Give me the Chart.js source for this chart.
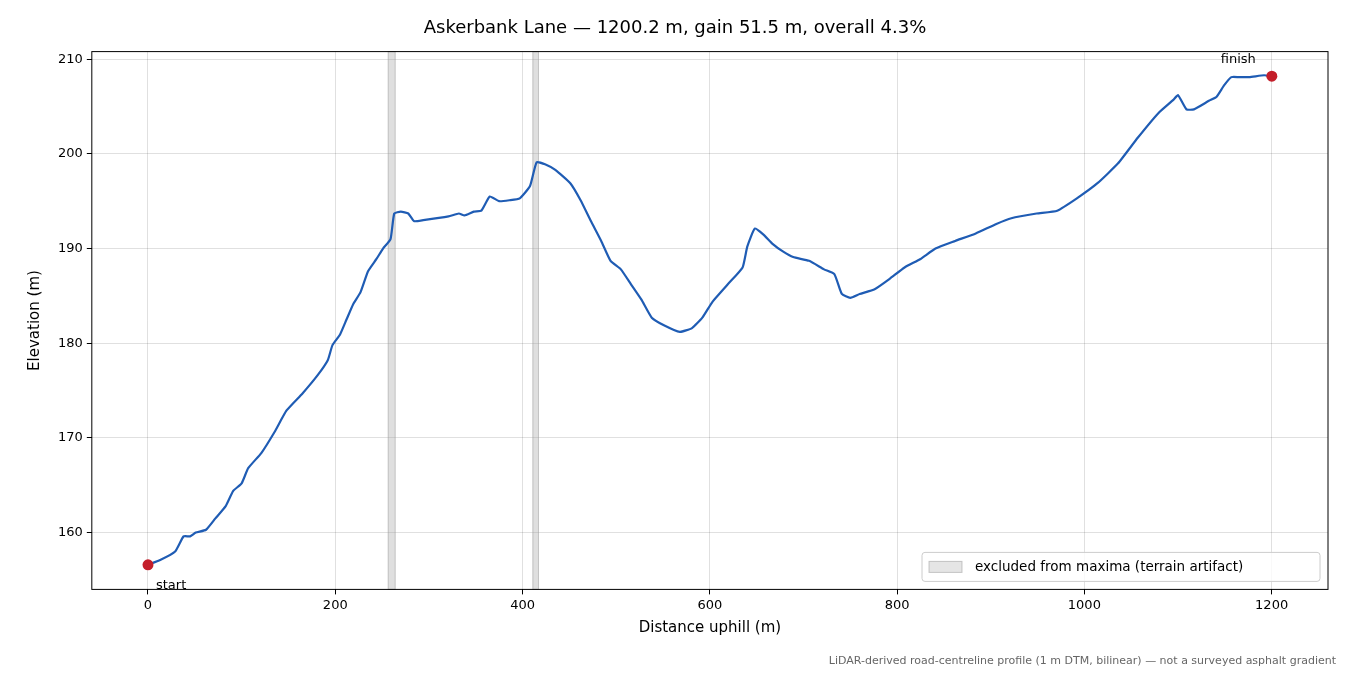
<!DOCTYPE html>
<html><head><meta charset="utf-8">
<script src="https://cdn.jsdelivr.net/npm/chart.js@4/dist/chart.umd.min.js"></script>
<style>html,body{margin:0;padding:0;background:#fff}#w{width:1350px;height:675px;position:relative}</style>
</head><body><div id="w"><canvas id="c" width="1350" height="675"></canvas></div>
<script>
const distance=[0,13,29,38,45,51,62,72,83,91,100,107,121,135,148,165,181,192,197,205,212,219,227,235,244,251,259,263,270,278,284,294,321,332,338,348,356,365,375,386,397,408,415,424,435,451,462,473,484,494,505,516,527,538,551,568,581,592,603,619,635,640,648,657,667,678,689,706,722,733,741,750,760,776,792,808,825,841,862,884,906,922,949,971,992,1014,1036,1057,1079,1095,1100,1109,1117,1133,1141,1149,1157,1165,1176,1192,1200.2];
const elevation=[156.6,157.1,158,159.6,159.6,160,160.3,161.5,162.8,164.4,165.2,166.8,168.4,170.6,172.9,174.7,176.6,178.2,179.8,180.9,182.5,184.1,185.4,187.6,188.9,190,191,193.7,193.9,193.7,192.9,193,193.4,193.7,193.5,193.9,194,195.5,195,195.1,195.3,196.6,199.1,198.9,198.3,196.9,195.1,192.9,190.8,188.7,187.8,186.2,184.6,182.7,181.9,181.2,181.6,182.7,184.4,186.2,188,190.2,192.1,191.5,190.5,189.7,189.1,188.7,187.8,187.3,185.2,184.8,185.2,185.7,186.8,188,188.9,190,190.8,191.6,192.6,193.2,193.7,194,195.3,196.9,199,201.7,204.3,205.7,206.2,204.7,204.7,205.6,206,207.2,208.1,208.1,208.1,208.3,208.2];
const bandStart=[256.5,411];
const bandEnd=[264,417];
const endLabels=["start","finish"];
const xTicks=[0,200,400,600,800,1000,1200];
const yTicks=[160,170,180,190,200,210];
const pts=distance.map((d,i)=>({x:d,y:elevation[i]}));
const ends=[pts[0],pts[pts.length-1]];
const F="DejaVu Sans";
const extras={id:'extras',
 beforeDatasetsDraw(ch){const {ctx,scales:{x,y},chartArea:a}=ch;ctx.save();
  for(let i=0;i<bandStart.length;i++){const x0=x.getPixelForValue(bandStart[i]),x1=x.getPixelForValue(bandEnd[i]);
   ctx.fillStyle='rgba(150,150,150,0.3)';ctx.fillRect(x0,a.top,x1-x0,a.bottom-a.top);
   ctx.strokeStyle='rgba(150,150,150,0.5)';ctx.lineWidth=1;ctx.strokeRect(x0,a.top,x1-x0,a.bottom-a.top);}
  ctx.restore();},
 afterDraw(ch){const {ctx,scales:{x,y},chartArea:a}=ch;ctx.save();
  ctx.strokeStyle='#000';ctx.lineWidth=1;ctx.strokeRect(a.left,a.top,a.right-a.left,a.bottom-a.top);
  ctx.font='13px '+F;ctx.fillStyle='#000';ctx.textBaseline='alphabetic';
  ctx.textAlign='left';ctx.fillText(endLabels[0],x.getPixelForValue(ends[0].x)+8,y.getPixelForValue(ends[0].y)+24);
  ctx.textAlign='right';ctx.fillText(endLabels[1],x.getPixelForValue(ends[1].x)-16,y.getPixelForValue(ends[1].y)-13);
  const lw=398,lh=29,lx=a.right-8-lw,ly=a.bottom-8-lh;
  ctx.fillStyle='rgba(255,255,255,0.8)';ctx.strokeStyle='#ccc';ctx.beginPath();ctx.roundRect(lx,ly,lw,lh,3);ctx.fill();ctx.stroke();
  ctx.fillStyle='rgba(150,150,150,0.25)';ctx.strokeStyle='rgba(150,150,150,0.5)';ctx.fillRect(lx+7,ly+9,33,11);ctx.strokeRect(lx+7,ly+9,33,11);
  ctx.fillStyle='#000';ctx.textAlign='left';ctx.textBaseline='middle';ctx.font='13.5px '+F;
  ctx.fillText('excluded from maxima (terrain artifact)',lx+53,ly+15);
  ctx.font='11px '+F;ctx.fillStyle='#666';ctx.textAlign='right';ctx.textBaseline='alphabetic';
  ctx.fillText('LiDAR-derived road-centreline profile (1 m DTM, bilinear) — not a surveyed asphalt gradient',1336,664);
  ctx.restore();}};
new Chart(document.getElementById('c'),{type:'scatter',
 data:{datasets:[
  {data:pts,showLine:true,borderColor:'#1f5cb4',borderWidth:2.2,pointRadius:0,tension:0.15,order:2},
  {data:ends,pointRadius:5.5,pointBackgroundColor:'#c41e2a',pointBorderWidth:0,order:1}]},
 options:{responsive:false,animation:false,devicePixelRatio:1,
  layout:{padding:{left:22,right:22,top:12,bottom:34}},
  plugins:{legend:{display:false},tooltip:{enabled:false},
   title:{display:true,text:'Askerbank Lane — 1200.2 m, gain 51.5 m, overall 4.3%',color:'#000',font:{family:F,size:18,weight:'normal'},padding:{top:6,bottom:12}}},
  scales:{
   x:{type:'linear',min:-60,max:1260.2,afterBuildTicks(s){s.ticks=xTicks.map(v=>({value:v}));},
    grid:{color:'rgba(0,0,0,0.12)',drawTicks:true,tickColor:'#000',tickLength:5},border:{display:false},
    ticks:{color:'#000',font:{family:F,size:13},maxRotation:0,padding:3,callback:v=>String(v)},
    title:{display:true,text:'Distance uphill (m)',color:'#000',font:{family:F,size:15},padding:{top:3}}},
   y:{min:154.0,max:210.8,afterBuildTicks(s){s.ticks=yTicks.map(v=>({value:v}));},
    grid:{color:'rgba(0,0,0,0.12)',tickColor:'#000',tickLength:5},border:{display:false},
    ticks:{color:'#000',font:{family:F,size:13},padding:4,callback:v=>String(v)},
    title:{display:true,text:'Elevation (m)',color:'#000',font:{family:F,size:15},padding:{bottom:10}}}}},
 plugins:[extras]});
</script></body></html>
